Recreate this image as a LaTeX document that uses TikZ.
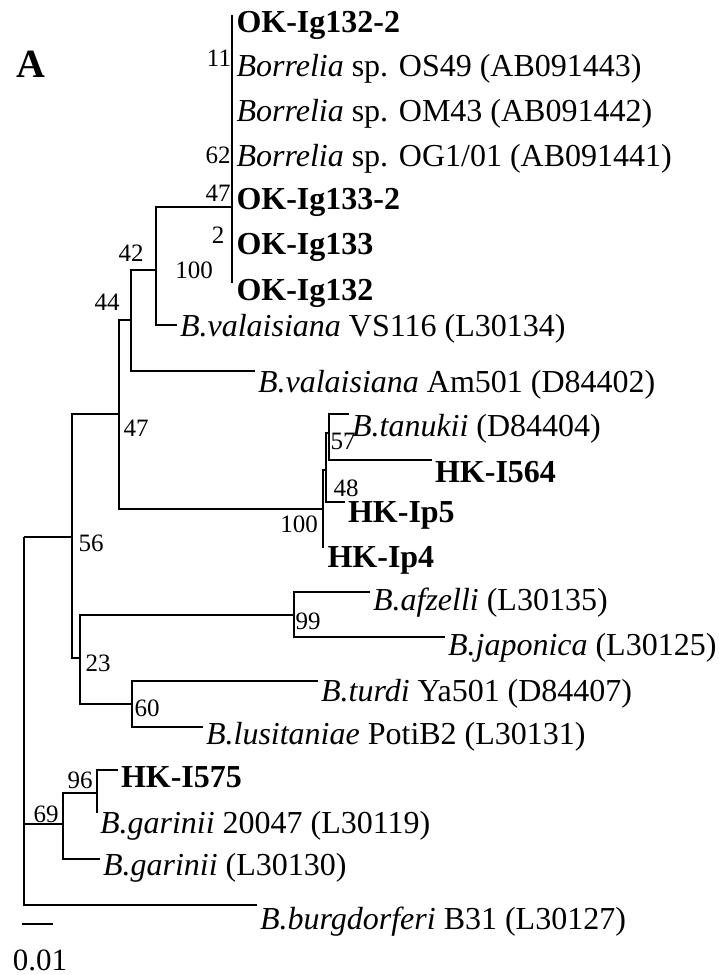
\documentclass[tikz,border=0pt]{standalone}
\usepackage{fontspec}
\setmainfont{Liberation Serif}
\usetikzlibrary{positioning,calc}

\begin{document}
\begin{tikzpicture}[x=1pt, y=-1pt, line width=1.1pt,
    leaf/.style={anchor=west, inner xsep=2.5pt, inner ysep=0pt, text height=#1, text depth=0pt, font=\fontsize{32}{36}\selectfont},
    leaf/.default=29pt,
    boot/.style={inner sep=0pt, text height=16.5pt, text depth=0pt, font=\fontsize{25}{28}\selectfont}]
    \useasboundingbox (0,0) rectangle (719,975);

    \node[font=\bfseries\fontsize{40}{44}\selectfont, inner sep=0pt, text height=27pt, text depth=0pt] (panel) at (31,64) {A};

    % inner nodes
    \coordinate (root) at (24,537);
    \coordinate (n56) at (72,537);
    \coordinate (n47) at (119,414);
    \coordinate (n44) at (131,320);
    \coordinate (n42) at (156,270);
    \coordinate (nok) at (232,207);
    \coordinate (nhk) at (323,509);
    \coordinate (n48) at (326,470);
    \coordinate (n57) at (329,433);
    \coordinate (n23) at (80,658);
    \coordinate (n99) at (294,615);
    \coordinate (n60) at (132,704);
    \coordinate (n69) at (63,824);
    \coordinate (n96) at (97,793);

    % leaves
    \node[leaf, inner xsep=4pt] (ok1) at (232,18) {\textbf{OK-Ig132-2}};
    \node[leaf, inner xsep=4pt] (os49) at (232,62) {\textit{Borrelia} sp. OS49 (AB091443)};
    \node[leaf, inner xsep=4pt] (om43) at (232,107) {\textit{Borrelia} sp. OM43 (AB091442)};
    \node[leaf, inner xsep=4pt] (og1) at (232,152) {\textit{Borrelia} sp. OG1/01 (AB091441)};
    \node[leaf, inner xsep=4pt] (ok2) at (232,195) {\textbf{OK-Ig133-2}};
    \node[leaf, inner xsep=4pt] (ok3) at (232,240) {\textbf{OK-Ig133}};
    \node[leaf, inner xsep=4pt] (ok4) at (232,286) {\textbf{OK-Ig132}};
    \node[leaf=22pt] (vs116) at (177,325) {\textit{B.valaisiana} VS116 (L30134)};
    \node[leaf=42pt] (am501) at (255,371) {\textit{B.valaisiana} Am501 (D84402)};
    \node[leaf=44pt] (tanukii) at (349,414) {\textit{B.tanukii} (D84404)};
    \node[leaf=44pt] (hki564) at (432,460) {\textbf{HK-I564}};
    \node[leaf=40pt] (hkip5) at (345,502) {\textbf{HK-Ip5}};
    \node[leaf=38pt, inner xsep=4pt] (hkip4) at (323,548) {\textbf{HK-Ip4}};
    \node[leaf=36pt] (afzelli) at (370,592) {\textit{B.afzelli} (L30135)};
    \node[leaf=36pt] (japonica) at (445,637) {\textit{B.japonica} (L30125)};
    \node[leaf=40pt] (turdi) at (318,681) {\textit{B.turdi} Ya501 (D84407)};
    \node[leaf=34pt] (lusit) at (203,727) {\textit{B.lusitaniae} PotiB2 (L30131)};
    \node[leaf=34pt] (hki575) at (118,770) {\textbf{HK-I575}};
    \node[leaf=40pt] (gar20047) at (97,813) {\textit{B.garinii} 20047 (L30119)};
    \node[leaf=32pt] (garinii) at (100,859) {\textit{B.garinii} (L30130)};
    \node[leaf=48pt] (burg) at (257,905) {\textit{B.burgdorferi} B31 (L30127)};

    % branches
    \draw ([yshift=3pt]ok1.west) -- ([yshift=3pt]ok4.west);
    \draw (root) |- (n56);
    \draw (root) |- (n69);
    \draw (root) |- (burg.west);
    \draw (n56) |- (n47);
    \draw (n56) |- (n23);
    \draw (n47) |- (n44);
    \draw (n47) |- (nhk);
    \draw (n44) |- (n42);
    \draw (n44) |- (am501.west);
    \draw (n42) |- (nok);
    \draw (n42) |- (vs116.west);
    \draw (nhk) |- (n48);
    \draw (nhk) |- (hkip4.west);
    \draw (n48) |- (n57);
    \draw (n48) |- (hkip5.west);
    \draw (n57) |- (tanukii.west);
    \draw (n57) |- (hki564.west);
    \draw (n23) |- (n99);
    \draw (n23) |- (n60);
    \draw (n99) |- (afzelli.west);
    \draw (n99) |- (japonica.west);
    \draw (n60) |- (turdi.west);
    \draw (n60) |- (lusit.west);
    \draw (n69) |- (n96);
    \draw (n69) |- (garinii.west);
    \draw (n96) |- (hki575.west);
    \draw (n96) |- (gar20047.west);

    % bootstrap values
    \node[boot] (b11) at (219,58) {11};
    \node[boot] (b62) at (218,155) {62};
    \node[boot] (b47a) at (218,193) {47};
    \node[boot] (b2) at (218,235) {2};
    \node[boot] (b100a) at (194,270) {100};
    \node[boot] (b42) at (131,253) {42};
    \node[boot] (b44) at (107,302) {44};
    \node[boot] (b47b) at (136,428) {47};
    \node[boot] (b56) at (91,543) {56};
    \node[boot] (b57) at (343,441) {57};
    \node[boot] (b48) at (346,488) {48};
    \node[boot] (b100b) at (299,524) {100};
    \node[boot] (b99) at (308,621) {99};
    \node[boot] (b23) at (98,663) {23};
    \node[boot] (b60) at (147,708) {60};
    \node[boot] (b96) at (80,780) {96};
    \node[boot] (b69) at (46,814) {69};

    % scale bar
    \coordinate (sbl) at (22,924);
    \coordinate (sbr) at (53,924);
    \draw (sbl) -- (sbr);
    \node[font=\fontsize{31}{34}\selectfont, inner sep=0pt, text height=20.5pt, text depth=0pt] (scale) at (40,960) {0.01};
\end{tikzpicture}
\end{document}
